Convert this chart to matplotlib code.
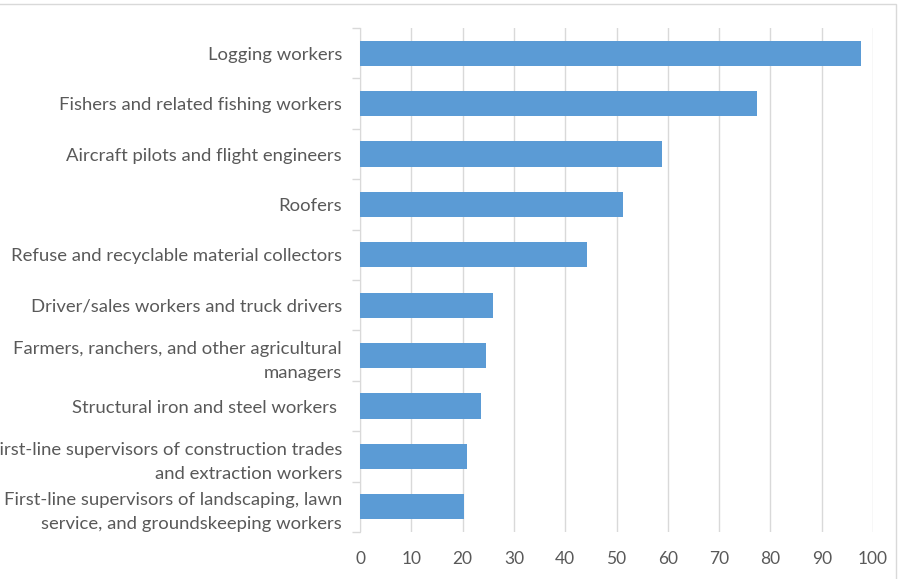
import matplotlib.pyplot as plt
import numpy as np

# occupations, top to bottom
occupations = [
    "Logging workers",
    "Fishers and related fishing workers",
    "Aircraft pilots and flight engineers",
    "Roofers",
    "Refuse and recyclable material collectors",
    "Driver/sales workers and truck drivers",
    "Farmers, ranchers, and other agricultural\nmanagers",
    "Structural iron and steel workers ",
    "First-line supervisors of construction trades\nand extraction workers",
    "First-line supervisors of landscaping, lawn\nservice, and groundskeeping workers",
]
rates = [97.6, 77.4, 58.8, 51.3, 44.3, 25.9, 24.6, 23.5, 20.9, 20.2]
x_ticks = [0, 10, 20, 30, 40, 50, 60, 70, 80, 90, 100]

plt.rcParams['font.family'] = ['Lato', 'DejaVu Sans']

fig = plt.figure(figsize=(9.18, 5.79), dpi=100)
ax = fig.add_axes([360 / 918, 1 - 532 / 579, 513 / 918, 504 / 579])

y = np.arange(len(occupations))
ax.barh(y, rates, height=0.5, color='#5B9BD5', zorder=3)

ax.set_xlim(0, 100)
ax.set_ylim(len(occupations) - 0.5, -0.5)
ax.set_xticks(x_ticks)
ax.set_xticklabels([str(t) for t in x_ticks], fontsize=12.5, color='#595959')
ax.set_yticks(y)
ax.set_yticklabels(occupations, fontsize=13.3, color='#595959', linespacing=1.6)
ax.set_yticks(np.arange(-0.5, len(occupations)), minor=True)

ax.tick_params(axis='x', length=0, pad=14)
ax.tick_params(axis='y', which='major', length=0, pad=13)
ax.tick_params(axis='y', which='minor', length=6, color='#D9D9D9', width=1)

ax.grid(axis='x', color='#D9D9D9', linewidth=1, zorder=0)
for side in ['top', 'right', 'bottom']:
    ax.spines[side].set_visible(False)
ax.spines['left'].set_color('#D9D9D9')

# outer chart frame (partly cropped)
fig.add_artist(plt.Rectangle((-0.01, -0.01), 896 / 918 + 0.01, 1 - 4 / 579 + 0.01,
                             transform=fig.transFigure, fill=False,
                             edgecolor='#D9D9D9', linewidth=1))

fig.savefig('out.png', dpi=100)
